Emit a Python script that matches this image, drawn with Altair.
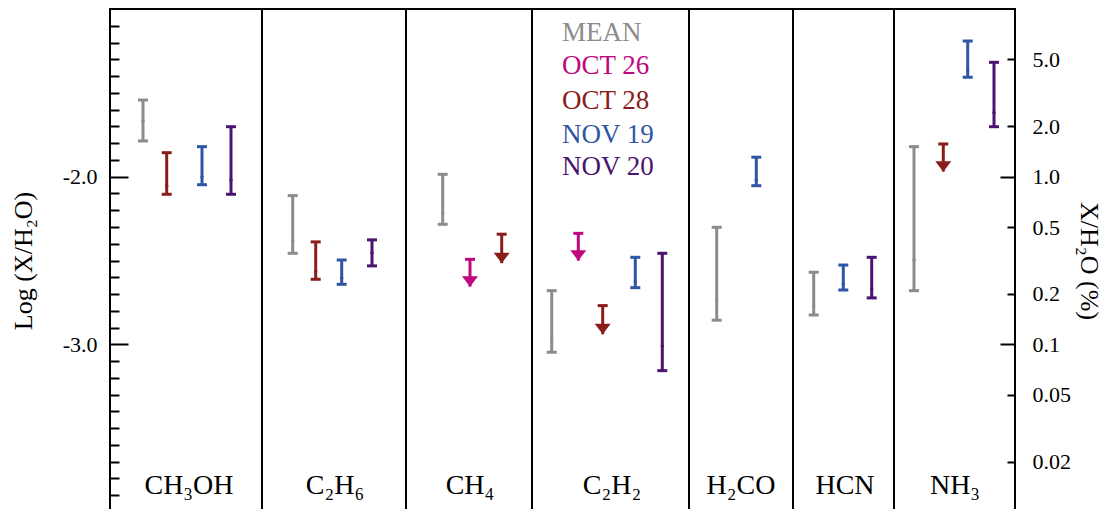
import altair as alt
import numpy as np
import pandas as pd

# ---------------- data ----------------
series_names = ["MEAN", "OCT 26", "OCT 28", "NOV 19", "NOV 20"]
series_colors = ["#8c8c8c", "#c0077e", "#8b1c1c", "#3055a6", "#4b1370"]

molecules = ["CH₃OH", "C₂H₆", "CH₄", "C₂H₂", "H₂CO", "HCN", "NH₃"]
molecule_x = [7.9, 22.5, 36.0, 50.2, 63.1, 73.5, 84.5]
separator_x = [15.2, 29.6, 42.2, 57.9, 68.3, 78.4]

# error bars: Log(X/H2O)
bar_series = ["MEAN", "OCT 28", "NOV 19", "NOV 20",
              "MEAN", "OCT 28", "NOV 19", "NOV 20",
              "MEAN",
              "MEAN", "NOV 19", "NOV 20",
              "MEAN", "NOV 19",
              "MEAN", "NOV 19", "NOV 20",
              "MEAN", "NOV 19", "NOV 20"]
bar_x = [3.3, 5.67, 9.2, 12.1,
         18.27, 20.57, 23.17, 26.2,
         33.27,
         44.17, 52.53, 55.23,
         60.67, 64.63,
         70.37, 73.33, 76.17,
         80.4, 85.77, 88.4]
bar_high = [-1.543, -1.857, -1.821, -1.702,
            -2.113, -2.389, -2.497, -2.377,
            -1.986,
            -2.680, -2.481, -2.457,
            -2.302, -1.884,
            -2.570, -2.527, -2.481,
            -1.821, -1.191, -1.318]
bar_low = [-1.787, -2.105, -2.048, -2.105,
           -2.457, -2.612, -2.642, -2.532,
           -2.284,
           -3.047, -2.662, -3.157,
           -2.856, -2.054,
           -2.825, -2.676, -2.723,
           -2.680, -1.407, -1.702]
bar_mid = [-1.665, -2.055, -2.000, -2.020,
           -2.383, -2.566, -2.606, -2.455,
           -2.218,
           -2.968, -2.626, -3.010,
           -2.739, -2.020,
           -2.771, -2.642, -2.670,
           -2.497, -1.364, -1.618]

# upper limits (arrows)
lim_series = ["OCT 26", "OCT 28", "OCT 26", "OCT 28", "OCT 28"]
lim_x = [36.0, 39.17, 46.83, 49.27, 83.33]
lim_value = [-2.493, -2.343, -2.338, -2.769, -1.805]
lim_tip = [-2.656, -2.516, -2.501, -2.940, -1.970]

# legend text positions
legend_x = [45.2, 45.2, 45.2, 45.2, 45.2]
legend_y = [-1.189, -1.388, -1.596, -1.801, -1.990]

# axis ticks
left_major = [-2.0, -3.0]
left_minor = [-1.1, -1.2, -1.3, -1.4, -1.5, -1.6, -1.7, -1.8, -1.9,
              -2.1, -2.2, -2.3, -2.4, -2.5, -2.6, -2.7, -2.8, -2.9,
              -3.1, -3.2, -3.3, -3.4, -3.5, -3.6, -3.7, -3.8, -3.9]
right_major_pct = [1.0, 0.1]
right_minor_pct = [5.0, 2.0, 0.5, 0.2, 0.05, 0.02]
right_major = [float(np.log10(p / 100.0)) for p in right_major_pct]
right_minor = [float(np.log10(p / 100.0)) for p in right_minor_pct]

label_y = -3.895

# ---------------- tables ----------------
df_bars = pd.DataFrame({"series": bar_series, "x": bar_x, "high": bar_high,
                        "low": bar_low, "mid": bar_mid})
df_lim = pd.DataFrame({"series": lim_series, "x": lim_x, "lim": lim_value, "tip": lim_tip})
df_caps = pd.DataFrame({
    "series": bar_series + bar_series + lim_series,
    "x": bar_x + bar_x + lim_x,
    "v": bar_high + bar_low + lim_value,
})
df_legend = pd.DataFrame({"series": series_names, "x": legend_x, "y": legend_y})
df_labels = pd.DataFrame({"name": molecules, "x": molecule_x, "y": [label_y] * len(molecules)})
df_sep = pd.DataFrame({"x": separator_x})

FONT = "Liberation Serif"

x_scale = alt.Scale(domain=[0, 90.5], nice=False, zero=False)
y_scale = alt.Scale(domain=[-4.0, -1.0], nice=False, zero=False)
color = alt.Color("series:N", scale=alt.Scale(domain=series_names, range=series_colors), legend=None)
X = alt.X("x:Q", scale=x_scale, axis=None)

common_axis = dict(domain=False, grid=False, tickColor="black", tickWidth=2,
                   labelColor="black", labelFont=FONT, labelFontSize=22,
                   labelOverlap=False, titleFont=FONT, titleColor="black",
                   titleFontWeight="normal", titleFontSize=26)

axis_left_major = alt.Axis(orient="left", values=left_major, offset=-18, tickSize=18,
                           labelExpr="'-' + format(-datum.value, '.1f')", labelPadding=13,
                           title="Log (X/H₂O)", titlePadding=26, **common_axis)
axis_left_minor = alt.Axis(orient="left", values=left_minor, offset=-9, tickSize=9,
                           labels=False, title=None, **common_axis)
pct_expr = ("pow(10, datum.value + 2) >= 0.095 ? format(pow(10, datum.value + 2), '.1f')"
            " : format(pow(10, datum.value + 2), '.2f')")
axis_right_major = alt.Axis(orient="right", values=right_major, offset=-15, tickSize=15,
                            labelExpr=pct_expr, labelPadding=17, title=None, **common_axis)
axis_right_minor = alt.Axis(orient="right", values=right_minor, offset=-8, tickSize=8,
                            labelExpr=pct_expr, labelPadding=17, title="X/H₂O (%)",
                            titleAngle=90, titlePadding=5, **common_axis)

bars = alt.Chart(df_bars).mark_rule(strokeWidth=3).encode(
    x=X, y=alt.Y("low:Q", scale=y_scale, axis=axis_left_major), y2="high:Q", color=color)

caps = alt.Chart(df_caps).mark_tick(orient="horizontal", size=10, thickness=3, opacity=1).encode(
    x=X, y=alt.Y("v:Q", scale=y_scale, axis=axis_left_minor), color=color)

dots = alt.Chart(df_bars).mark_point(filled=True, size=12, opacity=1, shape="circle").encode(
    x=X, y=alt.Y("mid:Q", scale=y_scale, axis=axis_right_major), color=color)

shafts = alt.Chart(df_lim).mark_rule(strokeWidth=3).encode(
    x=X, y=alt.Y("lim:Q", scale=y_scale, axis=axis_right_minor), y2="tip:Q", color=color)

heads = alt.Chart(df_lim).mark_point(shape="M-1,-1.3L1,-1.3L0,0Z", filled=True, size=256,
                                     opacity=1).encode(
    x=X, y=alt.Y("tip:Q", scale=y_scale, axis=None), color=color)

legend = alt.Chart(df_legend).mark_text(align="left", baseline="alphabetic", font=FONT,
                                        fontSize=27).encode(
    x=X, y=alt.Y("y:Q", scale=y_scale, axis=None), text="series:N", color=color)

labels = alt.Chart(df_labels).mark_text(align="center", baseline="alphabetic", font=FONT,
                                        fontSize=28, color="black").encode(
    x=X, y=alt.Y("y:Q", scale=y_scale, axis=None), text="name:N")

seps = alt.Chart(df_sep).mark_rule(color="black", strokeWidth=2).encode(x=X)

chart = alt.layer(seps, bars, caps, dots, shafts, heads, legend, labels).resolve_axis(
    y="independent"
).properties(
    width=905, height=503,
    padding={"left": 102, "top": 1, "right": 88, "bottom": 0},
    autosize=alt.AutoSizeParams(type="none"),
).configure(
    font=FONT, background="white"
).configure_view(stroke="black", strokeWidth=2)

chart.save("out.html", embed_options={"renderer": "svg", "actions": False})
